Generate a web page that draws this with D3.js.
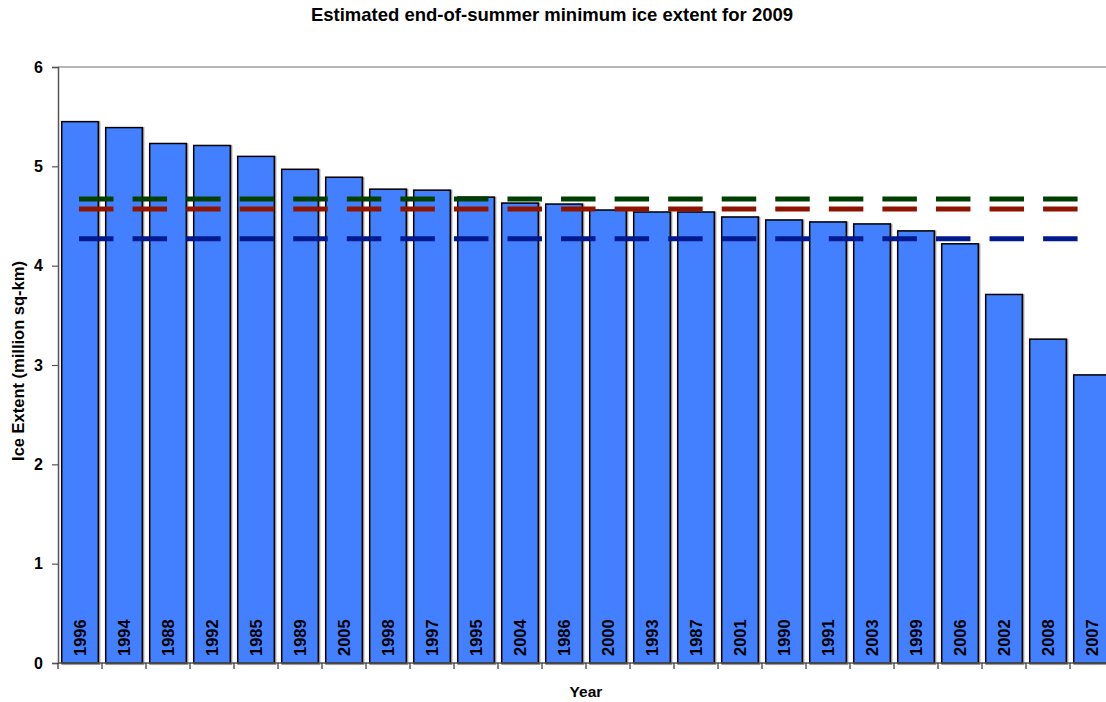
<!DOCTYPE html>
<html lang="en">
<head>
    <meta charset="UTF-8">
    <title>Estimated end-of-summer minimum ice extent for 2009</title>
    <style>
        body {
            margin: 0;
            background-color: #FFFFFF;
            font-family: "Liberation Sans", Arial, sans-serif;
            overflow: hidden;
        }
        svg { display: block; }
        .tick text { font-weight: bold; font-size: 16px; fill: #000; }
    </style>
</head>
<body>
    <div id="chart"></div>

    <script src="https://d3js.org/d3.v7.min.js"></script>
    <script>
        // data, bars sorted high to low
        const years = ["1996", "1994", "1988", "1992", "1985", "1989", "2005", "1998", "1997", "1995", "2004", "1986",
                       "2000", "1993", "1987", "2001", "1990", "1991", "2003", "1999", "2006", "2002", "2008", "2007"];
        const extents = [5.45, 5.39, 5.23, 5.21, 5.10, 4.97, 4.89, 4.77, 4.76, 4.69, 4.63, 4.62,
                         4.56, 4.54, 4.54, 4.49, 4.46, 4.44, 4.42, 4.35, 4.22, 3.71, 3.26, 2.90];
        // three reference (estimate) lines
        const refValues = [4.67, 4.57, 4.27];
        const refColors = ["#003F00", "#8E1400", "#001A8E"];
        const yTicks = [0, 1, 2, 3, 4, 5, 6];

        const width = 1106, height = 702;
        const margin = { top: 67, right: -8, bottom: 39, left: 58 };

        const svg = d3.select("#chart").append("svg")
            .attr("width", width)
            .attr("height", height);

        const x = d3.scaleBand()
            .domain(years)
            .range([margin.left, width - margin.right])
            .paddingInner(0.168)
            .paddingOuter(0.084);

        const y = d3.scaleLinear()
            .domain([0, 6])
            .range([height - margin.bottom, margin.top]);

        const step = x.step();

        // top border of plot area
        svg.append("line")
            .attr("x1", margin.left).attr("x2", width - margin.right)
            .attr("y1", y(6)).attr("y2", y(6))
            .attr("stroke", "#A0A0A0").attr("stroke-width", 1.5);

        // bars: soft grey halo under a black outline
        const bars = svg.append("g");
        bars.selectAll("rect.halo")
            .data(years)
            .join("rect")
            .attr("class", "halo")
            .attr("x", (d, i) => x(d) + 0.8)
            .attr("y", (d, i) => y(extents[i]) + 0.8)
            .attr("width", x.bandwidth())
            .attr("height", (d, i) => y(0) - y(extents[i]))
            .attr("fill", "none")
            .attr("stroke", "#9A9A9A")
            .attr("stroke-width", 2.5);
        bars.selectAll("rect.bar")
            .data(years)
            .join("rect")
            .attr("class", "bar")
            .attr("x", d => x(d))
            .attr("y", (d, i) => y(extents[i]))
            .attr("width", x.bandwidth())
            .attr("height", (d, i) => y(0) - y(extents[i]))
            .attr("fill", "#4380FF")
            .attr("stroke", "#000")
            .attr("stroke-width", 1.5);

        // year labels inside the bars
        svg.append("g").selectAll("text")
            .data(years)
            .join("text")
            .attr("transform", d => `translate(${x(d) + x.bandwidth() / 2 + 6},${y(0) - 7}) rotate(-90)`)
            .attr("font-size", "16.5px")
            .attr("font-weight", "bold")
            .attr("fill", "#000")
            .text(d => d);

        // dashed reference lines, from first to last category centre
        const xStart = x(years[0]) + x.bandwidth() / 2 - 1;
        const xEnd = x(years[years.length - 1]) + x.bandwidth() / 2;
        svg.append("g").selectAll("line")
            .data(refValues)
            .join("line")
            .attr("x1", xStart).attr("x2", xEnd)
            .attr("y1", d => y(d)).attr("y2", d => y(d))
            .attr("stroke", (d, i) => refColors[i])
            .attr("stroke-width", 5)
            .attr("stroke-dasharray", "34.5,19.06");

        // y axis
        const yAxis = svg.append("g")
            .attr("transform", `translate(${margin.left},0)`)
            .call(d3.axisLeft(y).tickValues(yTicks).tickSize(6).tickPadding(9).tickFormat(d3.format("d")));
        yAxis.select(".domain").attr("stroke", "#555").attr("stroke-width", 1.5);
        yAxis.selectAll(".tick line").attr("stroke", "#555").attr("stroke-width", 1.2);

        // x axis: line + ticks at band boundaries
        const xAxisG = svg.append("g");
        xAxisG.append("line")
            .attr("x1", margin.left).attr("x2", width - margin.right)
            .attr("y1", y(0)).attr("y2", y(0))
            .attr("stroke", "#555").attr("stroke-width", 1.5);
        xAxisG.selectAll("line.tk")
            .data(years)
            .join("line")
            .attr("class", "tk")
            .attr("x1", d => x(d) - step * 0.084).attr("x2", d => x(d) - step * 0.084)
            .attr("y1", y(0)).attr("y2", y(0) + 6)
            .attr("stroke", "#333").attr("stroke-width", 1.2);

        // titles
        svg.append("text")
            .attr("x", 552).attr("y", 21)
            .attr("text-anchor", "middle")
            .attr("font-size", "18.5px").attr("font-weight", "bold")
            .text("Estimated end-of-summer minimum ice extent for 2009");

        svg.append("text")
            .attr("x", 586).attr("y", 697)
            .attr("text-anchor", "middle")
            .attr("font-size", "15.5px").attr("font-weight", "bold")
            .text("Year");

        svg.append("text")
            .attr("transform", `translate(24,361) rotate(-90)`)
            .attr("text-anchor", "middle")
            .attr("font-size", "16.5px").attr("font-weight", "bold")
            .text("Ice Extent (million sq-km)");
    </script>
</body>
</html>
